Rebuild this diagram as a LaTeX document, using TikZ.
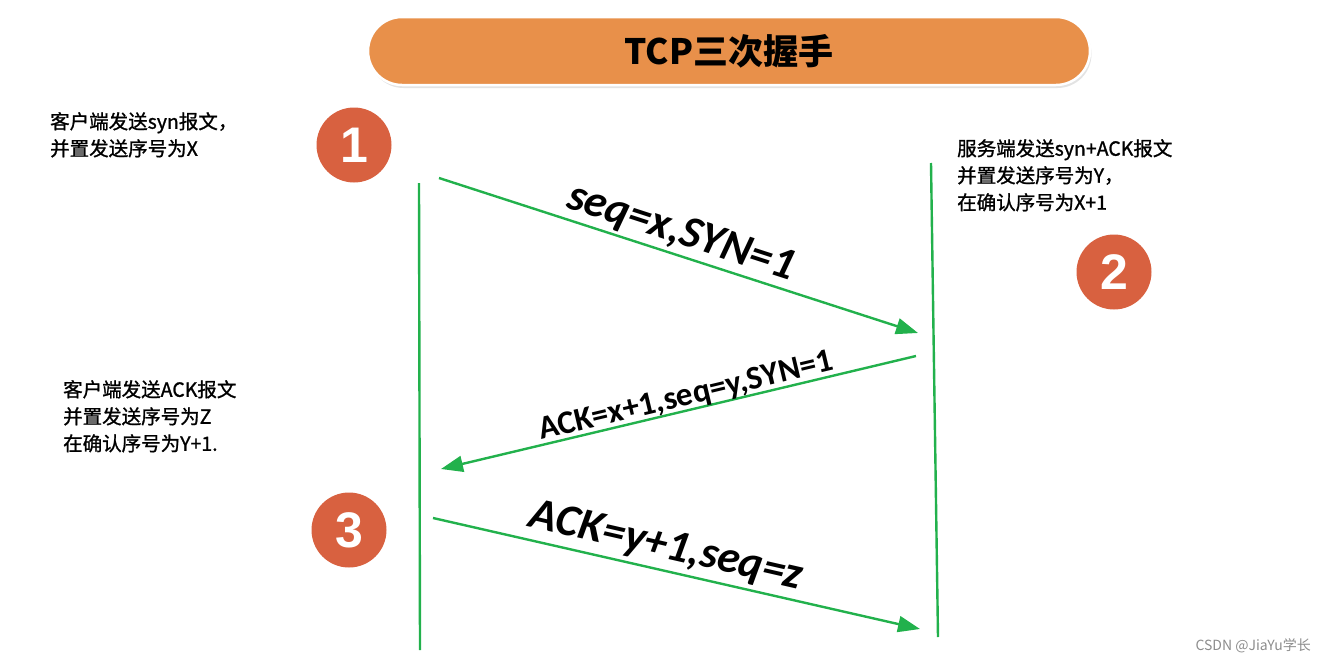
\documentclass[tikz,border=0pt]{standalone}
\usepackage{fontspec}
\setmainfont{Carlito}
\newfontfamily\cjk{Noto Sans CJK SC}
\newfontfamily\cjkm[FakeBold=1.2]{Noto Sans CJK SC}
\newfontfamily\numfont{Liberation Sans}
\usetikzlibrary{arrows.meta,shadows}
\definecolor{grn}{RGB}{34,177,76}
\definecolor{org}{RGB}{232,144,74}
\definecolor{redc}{RGB}{216,97,64}
\definecolor{wm}{RGB}{140,140,140}
\tikzset{
  pill/.style={draw=white, line width=2.5pt, fill=org, rounded corners=34pt,
    minimum width=722pt, minimum height=68pt, inner sep=0pt,
    drop shadow={shadow xshift=1.5pt, shadow yshift=-3pt, fill=black!22},
    font=\cjk\bfseries\fontsize{35}{35}\selectfont},
  numc/.style={circle, fill=redc, minimum size=75pt, inner sep=0pt, text=white,
    font=\numfont\bfseries\fontsize{50}{50}\selectfont},
  life/.style={draw=grn, line width=2.4pt},
  msg/.style={draw=grn, line width=2.4pt, -{Triangle[length=22pt,width=16pt]}},
  labi/.style={inner sep=0pt, font=\bfseries\itshape\fontsize{45}{45}\selectfont},
  labn/.style={inner sep=0pt, font=\bfseries\fontsize{33}{33}\selectfont},
  note/.style={inner sep=0pt, anchor=north west, align=left,
    font=\cjkm\fontsize{19.5}{27}\selectfont},
}
\begin{document}
\begin{tikzpicture}[x=1pt,y=-1pt]
\useasboundingbox (0,0) rectangle (1326,664);
\node[pill] (title) at (729,51) {TCP三次握手};

\node[numc] (n1) at (354,145) {1};
\node[numc] (n2) at (1114,272) {2};
\node[numc] (n3) at (349,530) {3};

\coordinate (ltop) at (419,183);
\coordinate (lbot) at (420,650);
\coordinate (rtop) at (931,163);
\coordinate (rbot) at (938,637);
\draw[life] (ltop) -- (lbot);
\draw[life] (rtop) -- (rbot);

\coordinate (a1s) at (439,178);
\coordinate (a1e) at (918,333);
\coordinate (a2s) at (916,356);
\coordinate (a2e) at (441,469);
\coordinate (a3s) at (433,518);
\coordinate (a3e) at (920,629);
\draw[msg] (a1s) -- (a1e);
\draw[msg] (a2s) -- (a2e);
\draw[msg] (a3s) -- (a3e);

\node[labi, rotate=-18] (l1) at (681,233) {seq=x,SYN=1};
\node[labn, rotate=13.4] (l2) at (686,397) {ACK=x+1,seq=y,SYN=1};
\node[labi, rotate=-12.9] (l3) at (666,547) {ACK=y+1,seq=z};

\node[note] (t1) at (50,112) {客户端发送syn报文，\\并置发送序号为X};
\node[note] (t2) at (957,139) {服务端发送syn+ACK报文\\并置发送序号为Y，\\在确认序号为X+1};
\node[note] (t3) at (63,380) {客户端发送ACK报文\\并置发送序号为Z\\在确认序号为Y+1.};

\node[anchor=east, inner sep=0pt, text=wm, font=\cjk\fontsize{14}{14}\selectfont] (wmk) at (1311,646) {CSDN @JiaYu学长};
\end{tikzpicture}
\end{document}
